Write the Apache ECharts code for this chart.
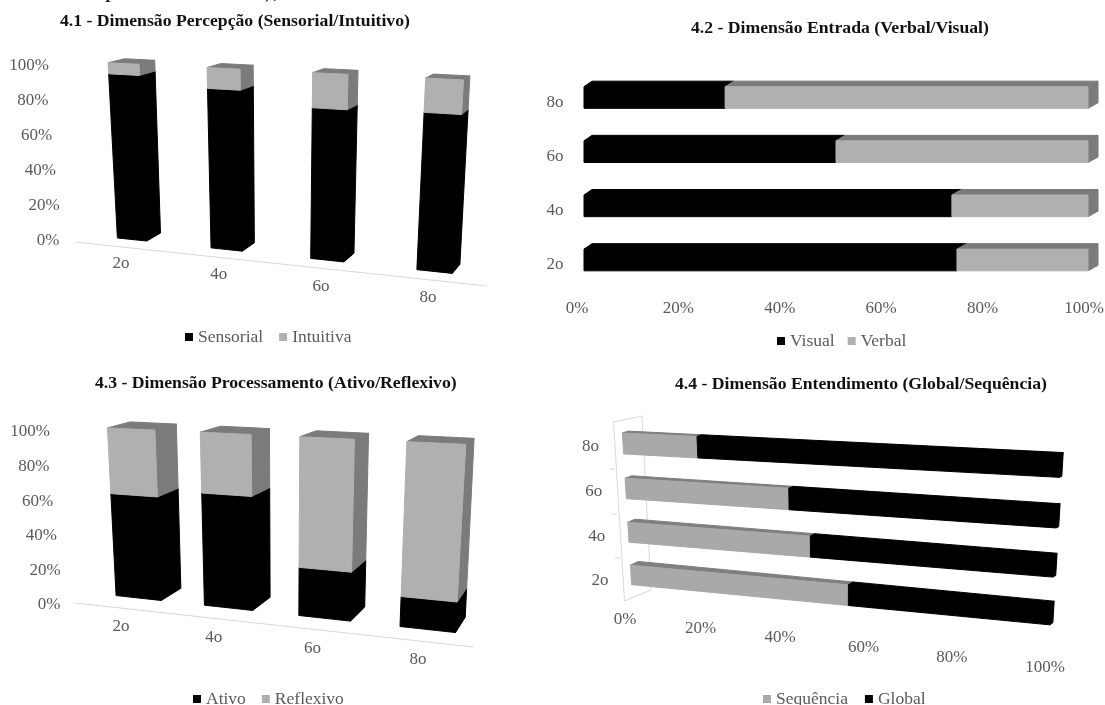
<!DOCTYPE html>
<html>
<head>
<meta charset="utf-8">
<style>html,body{margin:0;padding:0;background:#fff}#chart{width:1105px;height:705px}</style>
<script src="https://cdn.jsdelivr.net/npm/echarts@6/dist/echarts.min.js"></script>
</head>
<body>
<div id="chart"></div>
<script>
// Survey results by semester, four learning-style dimensions (percent of students).
const semesters = ['2o', '4o', '6o', '8o'];
const percentTicks = [0, 20, 40, 60, 80, 100];

const sensorial = [94, 89, 82, 83];
const intuitiva = [6, 11, 18, 17];
const visual = [74, 73, 50, 28];
const verbal = [26, 27, 50, 72];
const ativo = [62, 66, 28, 17];
const reflexivo = [38, 34, 72, 83];
const sequencia = [55, 46, 41, 19];
const global = [45, 54, 59, 81];

const BLACK = '#000000', LIGHT = '#b0b0b0', SHADE = '#7b7b7b';
const FONT = '"Liberation Serif", serif';
const TEXT_GREY = '#5a5a5a';

// Each panel: a plain grid plus the projective frame that tilts it into pseudo-3D.
// front/back give where the first and last band centres land on the near and far planes.
const panels = [
  {
    title: '4.1 - Dimensão Percepção (Sensorial/Intuitivo)', titlePos: [60, 12],
    horizontal: false, barRatio: 0.32,
    grid: { left: 80, top: 60, width: 400, height: 180 },
    front: [[132, 239.5], [434.5, 271.5], [444.5, 79], [123.5, 63.5]],
    back: [[146, 231.5], [442.5, 262.5], [451.5, 75], [139.5, 59.5]],
    first: { name: 'Sensorial', values: sensorial, color: BLACK, depth: BLACK },
    second: { name: 'Intuitiva', values: intuitiva, color: LIGHT, depth: SHADE },
    legend: { left: 185, top: 328 }, legendGap: 16,
    valueLabels: { a: [29, 66], b: [48, 241], k: 1 },
    catLabels: { a: [121, 264], b: [428, 298], k: 1.07 }
  },
  {
    title: '4.2 - Dimensão Entrada (Verbal/Visual)', titlePos: [691, 19],
    horizontal: true, barRatio: 0.4,
    grid: { left: 584, top: 80, width: 504, height: 200 },
    front: [[584, 260], [1088, 260], [1088, 97.5], [584, 97.5]],
    back: [[592, 254.5], [1098, 254.5], [1098, 92], [592, 92]],
    first: { name: 'Visual', values: visual, color: BLACK, depth: BLACK },
    second: { name: 'Verbal', values: verbal, color: LIGHT, depth: SHADE },
    legend: { left: 777, top: 332 }, legendGap: 13,
    valueLabels: { a: [577, 309], b: [1084, 309], k: 1 },
    catLabels: { a: [555, 265], b: [555, 103], k: 1 }
  },
  {
    title: '4.3 - Dimensão Processamento (Ativo/Reflexivo)', titlePos: [95, 374],
    horizontal: false, barRatio: 0.52,
    grid: { left: 80, top: 425, width: 400, height: 180 },
    front: [[138.5, 598], [427.5, 629.5], [436, 443], [131, 429]],
    back: [[158.5, 586], [438.5, 614.5], [446, 437], [153, 423]],
    first: { name: 'Ativo', values: ativo, color: BLACK, depth: BLACK },
    second: { name: 'Reflexivo', values: reflexivo, color: LIGHT, depth: SHADE },
    legend: { left: 193, top: 690 }, legendGap: 16,
    valueLabels: { a: [30, 432], b: [49, 605], k: 1 },
    catLabels: { a: [121, 627], b: [418, 660], k: 1.1 }
  },
  {
    title: '4.4 - Dimensão Entendimento (Global/Sequência)', titlePos: [675, 375],
    horizontal: true, barRatio: 0.46,
    grid: { left: 620, top: 430, width: 430, height: 190 },
    front: [[631, 575], [1050.5, 614], [1060, 465.5], [623, 443.5]],
    back: [[639, 571], [1053.5, 612], [1062.5, 464.5], [629, 441.5]],
    first: { name: 'Sequência', values: sequencia, color: '#a9a9a9', depth: '#7f7f7f' },
    second: { name: 'Global', values: global, color: BLACK, depth: BLACK },
    legend: { left: 763, top: 690 }, legendGap: 17,
    valueLabels: { a: [625, 620], b: [1045, 668], k: 1.14 },
    catLabels: { a: [600, 581], b: [590.5, 447], k: 1 }
  }
];

// Light construction lines: the floor rules and the side wall of the last panel.
const ruleLines = [
  [[75, 242], [487, 286]],
  [[75, 603], [473, 647]],
  [[613.5, 422], [624.5, 601]],
  [[613.5, 422], [642, 416]],
  [[642, 416], [651, 590]],
  [[624.5, 601], [651, 590]],
  [[610, 469], [615, 469]],
  [[612, 514], [617, 514]],
  [[615, 558], [620, 558]]
];

// Tail of the body text line cut off above the first heading.
const cutOffText = [
  { text: 'p', x: 105 },
  { text: '),', x: 265 }
];

// Solve the homography taking four source points to four destination points.
function homography(src, dst) {
  const A = [];
  for (let i = 0; i < 4; i++) {
    const [x, y] = src[i], [X, Y] = dst[i];
    A.push([x, y, 1, 0, 0, 0, -x * X, -y * X, X]);
    A.push([0, 0, 0, x, y, 1, -x * Y, -y * Y, Y]);
  }
  for (let c = 0; c < 8; c++) {
    let p = c;
    for (let r = c + 1; r < 8; r++) if (Math.abs(A[r][c]) > Math.abs(A[p][c])) p = r;
    [A[c], A[p]] = [A[p], A[c]];
    for (let r = 0; r < 8; r++) {
      if (r === c) continue;
      const f = A[r][c] / A[c][c];
      for (let k = c; k < 9; k++) A[r][k] -= f * A[c][k];
    }
  }
  const h = A.map((row, i) => row[8] / row[i]);
  return (x, y) => {
    const w = h[6] * x + h[7] * y + 1;
    return [(h[0] * x + h[1] * y + h[2]) / w, (h[3] * x + h[4] * y + h[5]) / w];
  };
}

// Interpolate along a receding line; k > 1 spreads the far end apart.
function recede(a, b, t, k) {
  const s = t / (t + (1 - t) * k);
  return [a[0] + (b[0] - a[0]) * s, a[1] + (b[1] - a[1]) * s];
}

const series = [], grids = [], xAxes = [], yAxes = [], titles = [], legends = [];

panels.forEach((p, idx) => {
  const src = p.horizontal
    ? [[0, 1 / 8], [1, 1 / 8], [1, 7 / 8], [0, 7 / 8]]
    : [[1 / 8, 0], [7 / 8, 0], [7 / 8, 1], [1 / 8, 1]];
  const toFront = homography(src, p.front);
  const toBack = homography(src, p.back);

  grids.push(p.grid);
  const catAxis = { type: 'category', data: semesters, gridIndex: idx, show: false };
  const valAxis = { type: 'value', min: 0, max: 100, interval: 20, gridIndex: idx, show: false };
  xAxes.push(p.horizontal ? valAxis : catAxis);
  yAxes.push(p.horizontal ? catAxis : valAxis);

  titles.push({
    text: p.title, left: p.titlePos[0], top: p.titlePos[1], padding: 0,
    textStyle: { fontFamily: FONT, fontSize: 17.7, fontWeight: 'bold', color: '#111' }
  });
  legends.push({
    ...p.legend, data: [p.first.name, p.second.name], icon: 'rect',
    itemWidth: 8, itemHeight: 8, itemGap: p.legendGap, padding: 0,
    textStyle: { fontFamily: FONT, fontSize: 17.5, color: TEXT_GREY }
  });

  // Stacked segment: front face plus the visible depth faces.
  const addStack = (s, lows, isLast) => {
    const rows = s.values.map((v, i) => [i, lows[i], lows[i] + v]);
    series.push({
      type: 'custom', name: s.name, xAxisIndex: idx, yAxisIndex: idx, silent: true,
      itemStyle: { color: s.color },
      encode: p.horizontal ? { x: [1, 2], y: 0 } : { x: 0, y: [1, 2] },
      data: rows,
      renderItem(params, api) {
        const a = params.coordSys;
        const cat = api.value(0), lo = api.value(1), hi = api.value(2);
        const norm = (pt) => [(pt[0] - a.x) / a.width, (a.y + a.height - pt[1]) / a.height];
        const half = p.barRatio / 2;
        let c0, c1, c2, c3, depthFaces = [];
        if (p.horizontal) {
          const bl = norm(api.coord([lo, cat])), tr = norm(api.coord([hi, cat]));
          const y0 = bl[1] - half * 0.25, y1 = bl[1] + half * 0.25;
          c0 = [bl[0], y0]; c1 = [tr[0], y0]; c2 = [tr[0], y1]; c3 = [bl[0], y1];
          depthFaces.push([c3, c2]);
          if (isLast) depthFaces.push([c1, c2]);
        } else {
          const bl = norm(api.coord([cat, lo])), tr = norm(api.coord([cat, hi]));
          const x0 = bl[0] - half * 0.25, x1 = bl[0] + half * 0.25;
          c0 = [x0, bl[1]]; c1 = [x1, bl[1]]; c2 = [x1, tr[1]]; c3 = [x0, tr[1]];
          depthFaces.push([c1, c2]);
          if (isLast) depthFaces.push([c3, c2]);
        }
        const children = depthFaces.map(([e0, e1]) => ({
          type: 'polygon',
          shape: { points: [toFront(e0[0], e0[1]), toFront(e1[0], e1[1]), toBack(e1[0], e1[1]), toBack(e0[0], e0[1])] },
          style: { fill: s.depth, stroke: s.depth, lineWidth: 1, lineJoin: 'round' }
        }));
        children.push({
          type: 'polygon',
          shape: { points: [c0, c1, c2, c3].map((q) => toFront(q[0], q[1])) },
          style: { fill: s.color, stroke: s.color, lineWidth: 1, lineJoin: 'round' }
        });
        return { type: 'group', children };
      }
    });
  };
  addStack(p.first, p.first.values.map(() => 0), false);
  addStack(p.second, p.first.values, true);

  const labelStyle = (text, pos) => ({
    type: 'text',
    style: {
      text, x: pos[0], y: pos[1], fill: TEXT_GREY, align: 'center', verticalAlign: 'middle',
      font: '17px ' + FONT
    }
  });

  // Tick labels follow the tilted axes, so they are placed from the axis scale here.
  series.push({
    type: 'custom', xAxisIndex: idx, yAxisIndex: idx, silent: true,
    encode: p.horizontal ? { x: 0, y: -1 } : { y: 0, x: -1 },
    data: percentTicks.map((t) => [t]),
    renderItem(params, api) {
      const a = params.coordSys, tick = api.value(0);
      const t = p.horizontal
        ? (api.coord([tick, 0])[0] - a.x) / a.width
        : (a.y + a.height - api.coord([0, tick])[1]) / a.height;
      const m = p.valueLabels;
      const pos = p.horizontal ? recede(m.a, m.b, t, m.k) : recede(m.b, m.a, t, m.k);
      return labelStyle(tick + '%', pos);
    }
  });
  series.push({
    type: 'custom', xAxisIndex: idx, yAxisIndex: idx, silent: true,
    encode: p.horizontal ? { y: 0, x: -1 } : { x: 0, y: -1 },
    data: semesters.map((_, i) => [i]),
    renderItem(params, api) {
      const a = params.coordSys, i = api.value(0);
      const c = p.horizontal ? api.coord([0, i]) : api.coord([i, 0]);
      const u = p.horizontal ? (a.y + a.height - c[1]) / a.height : (c[0] - a.x) / a.width;
      const m = p.catLabels;
      return labelStyle(semesters[i], recede(m.a, m.b, (u - 1 / 8) / 0.75, m.k));
    }
  });
});

const chart = echarts.init(document.getElementById('chart'));
chart.setOption({
  backgroundColor: '#fff',
  animation: false,
  title: titles,
  legend: legends,
  grid: grids,
  xAxis: xAxes,
  yAxis: yAxes,
  series,
  graphic: ruleLines.map(([a, b]) => ({
    type: 'line', z: 0, silent: true,
    shape: { x1: a[0], y1: a[1], x2: b[0], y2: b[1] },
    style: { stroke: '#d9d9d9', lineWidth: 1 }
  })).concat(cutOffText.map((t) => ({
    type: 'text', silent: true, x: t.x, y: -21,
    style: { text: t.text, font: '24px ' + FONT, fill: '#000' }
  })))
});
</script>
</body>
</html>
